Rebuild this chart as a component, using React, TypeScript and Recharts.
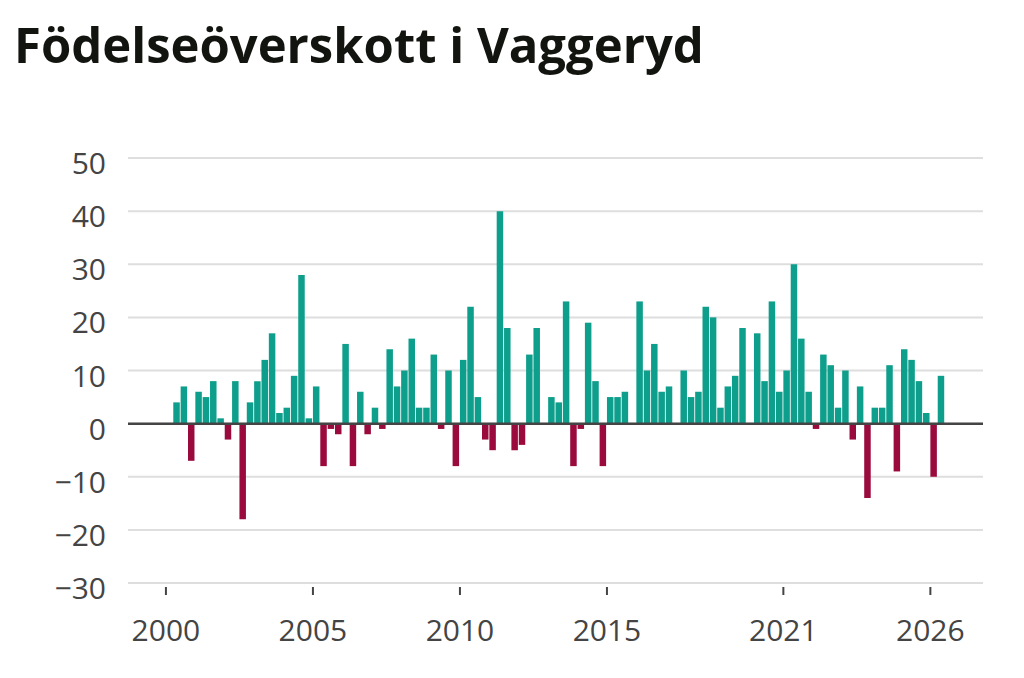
import { Bar, BarChart, CartesianGrid, Cell, ReferenceLine, XAxis, YAxis } from "recharts";

// Födelseöverskott per kvartal, första stapeln = 2000 kv 2
const startYear = 2000;
const startQuarter = 2;
const surplus = [
  4, 7, -7,
  6, 5, 8, 1,
  -3, 8, -18, 4,
  8, 12, 17, 2,
  3, 9, 28, 1,
  7, -8, -1, -2,
  15, -8, 6, -2,
  3, -1, 14, 7,
  10, 16, 3, 3,
  13, -1, 10, -8,
  12, 22, 5, -3,
  -5, 40, 18, -5,
  -4, 13, 18, 0,
  5, 4, 23, -8,
  -1, 19, 8, -8,
  5, 5, 6, 0,
  23, 10, 15, 6,
  7, 0, 10, 5,
  6, 22, 20, 3,
  7, 9, 18, 0,
  17, 8, 23, 6,
  10, 30, 16, 6,
  -1, 13, 11, 3,
  10, -3, 7, -14,
  3, 3, 11, -9,
  14, 12, 8, 2,
  -10, 9,
];

const yTicks = [-30, -20, -10, 0, 10, 20, 30, 40, 50];
const xTicks = [2000, 2005, 2010, 2015, 2021, 2026];

const POS = "#0e9e8c";
const NEG = "#9a0a3d";
const TICK = "#444";
const FONT = "'Open Sans', 'Noto Sans', sans-serif";

const data = surplus.map((v, i) => {
  const q = startQuarter - 1 + i;
  const year = startYear + Math.floor(q / 4);
  const quarter = (q % 4) + 1;
  return { label: `${year} K${quarter}`, t: year + (quarter - 0.5) / 4, value: v };
});

function XTick(props: any) {
  const { x, y, payload } = props;
  return (
    <g>
      <line x1={x} x2={x} y1={y + 4} y2={y + 12} stroke={TICK} strokeWidth={2} />
      <text x={x} y={y + 58} textAnchor="middle" fill={TICK} fontSize={30} fontFamily={FONT}>
        {payload.value}
      </text>
    </g>
  );
}

function YTick(props: any) {
  const { x, y, payload } = props;
  const v = payload.value as number;
  return (
    <text x={x} y={y + 16} textAnchor="end" fill={TICK} fontSize={30} fontFamily={FONT}>
      {v < 0 ? `−${Math.abs(v)}` : `${v}`}
    </text>
  );
}

export default function App() {
  return (
    <div
      style={{
        position: "absolute",
        left: 0,
        top: 0,
        width: 1024,
        height: 678,
        background: "#fff",
        overflow: "hidden",
      }}
    >
      <div
        style={{
          position: "absolute",
          left: 14,
          top: 11,
          fontFamily: FONT,
          fontWeight: 700,
          fontSize: 49,
          color: "#12140f",
          whiteSpace: "nowrap",
        }}
      >
        Födelseöverskott i Vaggeryd
      </div>
      <div style={{ position: "absolute", left: 0, top: 0 }}>
        <BarChart
          width={1024}
          height={678}
          data={data}
          margin={{ top: 158, right: 41, bottom: 0, left: 0 }}
        >
          <CartesianGrid vertical={false} stroke="#dedede" strokeWidth={2} />
          <XAxis
            type="number"
            dataKey="t"
            domain={[1998.71, 2027.79]}
            ticks={xTicks}
            allowDataOverflow
            axisLine={false}
            tickLine={false}
            tickSize={0}
            tickMargin={0}
            height={95}
            tick={<XTick />}
            interval={0}
          />
          <YAxis
            domain={[-30, 50]}
            ticks={yTicks}
            width={128}
            axisLine={false}
            tickLine={false}
            tickSize={0}
            tickMargin={22}
            interval={0}
            tick={<YTick />}
          />
          <ReferenceLine y={0} stroke="#444" strokeWidth={2.5} />
          <Bar dataKey="value" barSize={6.5} isAnimationActive={false}>
            {data.map((d) => (
              <Cell key={d.label} fill={d.value < 0 ? NEG : POS} />
            ))}
          </Bar>
        </BarChart>
      </div>
    </div>
  );
}
